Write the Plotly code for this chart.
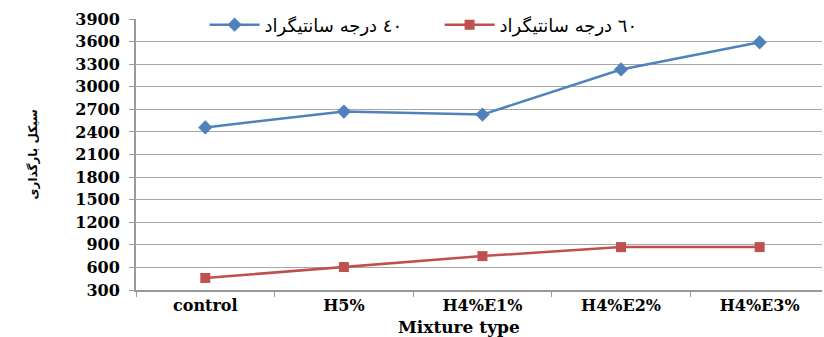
import plotly.graph_objects as go

categories = ["control", "H5%", "H4%E1%", "H4%E2%", "H4%E3%"]
series_40 = [2460, 2670, 2630, 3230, 3590]
series_60 = [460, 605, 750, 870, 870]
name_40 = "٤٠ درجه سانتیگراد"
name_60 = "٦٠ درجه سانتیگراد"
y_ticks = list(range(300, 4000, 300))
y_title = "سیکل بارگذاری"
x_title = "Mixture type"

tick_font = dict(family="DejaVu Serif", size=16, color="#000000", weight="bold")

fig = go.Figure()
fig.add_trace(go.Scatter(
    x=categories, y=series_40, name=name_40, mode="lines+markers",
    line=dict(color="#4F81BD", width=2.5),
    marker=dict(symbol="diamond", size=11, color="#4F81BD"),
))
fig.add_trace(go.Scatter(
    x=categories, y=series_60, name=name_60, mode="lines+markers",
    line=dict(color="#C0504D", width=2.5),
    marker=dict(symbol="square", size=10, color="#C0504D"),
))

fig.update_layout(
    width=824, height=337,
    margin=dict(l=136, r=2, t=19, b=47),
    paper_bgcolor="white", plot_bgcolor="white",
    showlegend=True,
    legend=dict(
        orientation="h", x=0.1, y=0.978, xanchor="left", yanchor="middle",
        bgcolor="rgba(0,0,0,0)", font=dict(family="DejaVu Sans", size=18, color="#000"),
        entrywidth=170, entrywidthmode="pixels", itemwidth=50,
        tracegroupgap=0,
    ),
    xaxis=dict(
        type="category", tickson="boundaries", ticks="outside", ticklen=5,
        tickcolor="#999999", showline=True, linecolor="#999999", linewidth=2,
        showgrid=False, tickfont=tick_font, range=[-0.5, 4.45], automargin=False,
    ),
    yaxis=dict(
        range=[300, 3900], tickvals=y_ticks, ticks="outside", ticklen=5,
        tickcolor="#999999", showline=True, linecolor="#999999", linewidth=2,
        showgrid=True, gridcolor="#A6A6A6", gridwidth=1, zeroline=False,
        tickfont=tick_font, ticklabelstandoff=6, automargin=False,
    ),
    annotations=[
        dict(
            text=x_title, xref="paper", yref="paper", x=(459 - 136) / 686, y=0,
            yshift=-37, xanchor="center", yanchor="middle", showarrow=False,
            font=dict(family="DejaVu Serif", size=17, color="#000", weight="bold"),
        ),
        dict(
            text=y_title, xref="paper", yref="paper", x=0, xshift=-104, y=0.5,
            xanchor="center", yanchor="middle", textangle=-90, showarrow=False,
            font=dict(family="DejaVu Sans", size=12, color="#000", weight="bold"),
        ),
    ],
)

fig.write_html(
    "out.html",
    config={"displayModeBar": False},
    post_script="document.body.style.margin='0';document.body.style.overflow='hidden';",
)
